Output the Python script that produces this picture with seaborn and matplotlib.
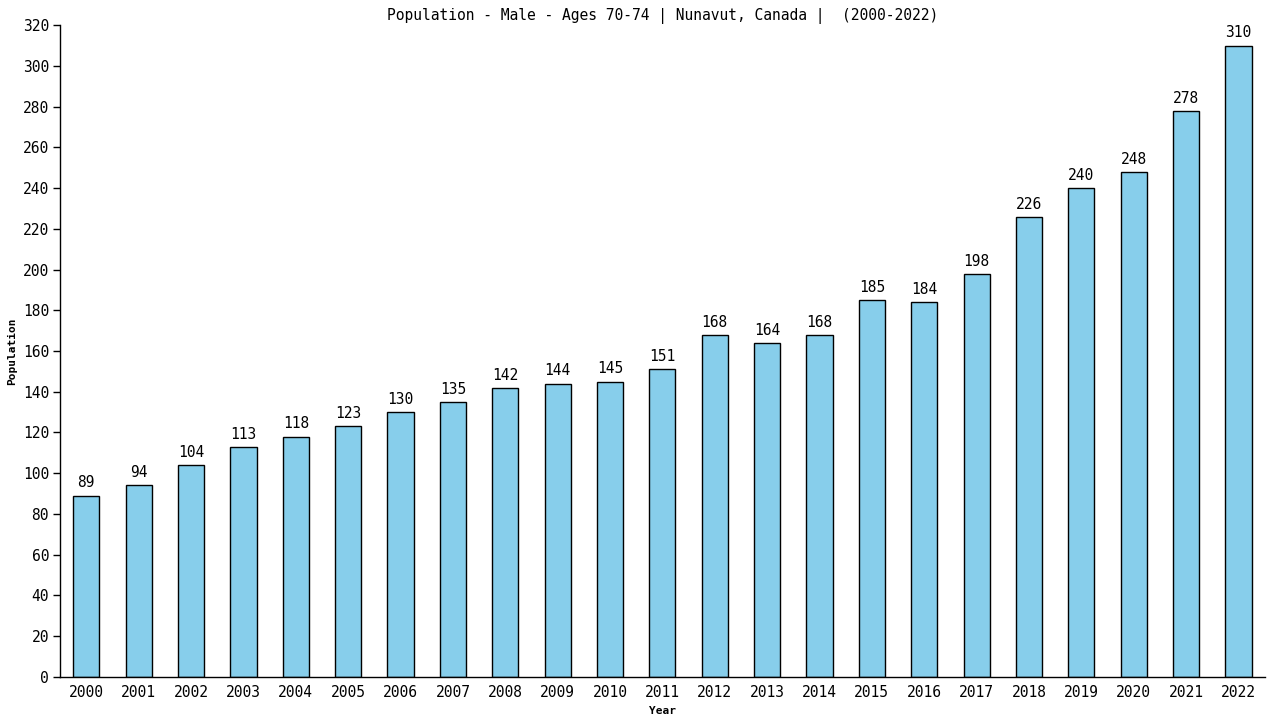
import numpy as np
import pandas as pd
import seaborn as sns
import matplotlib.pyplot as plt

years = [str(y) for y in range(2000, 2023)]
population = [89, 94, 104, 113, 118, 123, 130, 135, 142, 144, 145, 151,
              168, 164, 168, 185, 184, 198, 226, 240, 248, 278, 310]

df = pd.DataFrame({'Year': years, 'Population': population})

sns.set_style('white')
plt.rcParams['font.family'] = ['DejaVu Sans Mono', 'DejaVu Sans']
plt.rcParams['text.color'] = 'black'
plt.rcParams['axes.labelcolor'] = 'black'
plt.rcParams['xtick.color'] = 'black'
plt.rcParams['ytick.color'] = 'black'

fig = plt.figure(figsize=(12.8, 7.2), dpi=100)
ax = fig.add_axes([0.047, 0.06, 0.941, 0.905])

sns.barplot(data=df, x='Year', y='Population', color='#87CEEB', saturation=1,
            width=0.5, edgecolor='black', linewidth=1, ax=ax)

# value labels above each bar
for i, v in enumerate(population):
    ax.text(i, v + 2.5, str(v), ha='center', va='bottom', fontsize=10.5)

ax.set_xlim(-0.5, len(years) - 0.5)
ax.set_ylim(0, 320)
ax.set_yticks(np.arange(0, 321, 20))
ax.tick_params(axis='y', length=5, width=1, labelsize=10.5, pad=3, left=True)
ax.tick_params(axis='x', length=0, labelsize=10.5, pad=6)
sns.despine(ax=ax)
for s in ['left', 'bottom']:
    ax.spines[s].set_color('black')
    ax.spines[s].set_linewidth(1)

ax.set_xlabel('Year', fontsize=8, fontweight='bold', labelpad=4)
ax.set_ylabel('Population', fontsize=8, fontweight='bold', labelpad=4)
ax.set_title('Population - Male - Ages 70-74 | Nunavut, Canada |  (2000-2022)',
             fontsize=10.5, pad=4)

fig.savefig('out.png', dpi=100)
